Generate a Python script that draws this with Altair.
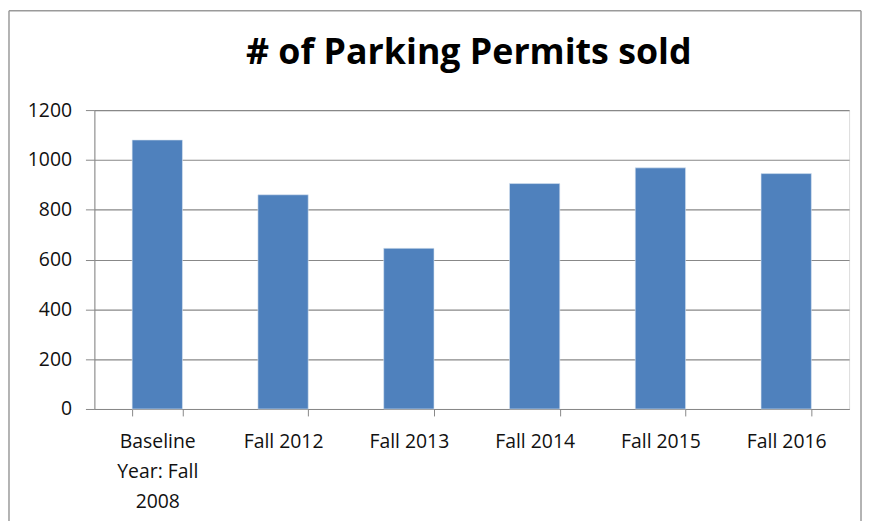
import altair as alt
import pandas as pd

categories = ["Baseline Year: Fall 2008", "Fall 2012", "Fall 2013", "Fall 2014", "Fall 2015", "Fall 2016"]
permits = [1080, 860, 645, 905, 968, 945]
y_ticks = [0, 200, 400, 600, 800, 1000, 1200]

df = pd.DataFrame({"period": categories, "permits": permits})

FONT = "Open Sans"
GRID = "#888888"

bars = alt.Chart(df).mark_bar(color="#4F81BD", stroke="#DCE6F2", strokeWidth=0.6).encode(
    x=alt.X(
        "period:N",
        sort=categories,
        title=None,
        scale=alt.Scale(paddingInner=0.6, paddingOuter=0.3),
        axis=alt.Axis(
            labelAngle=0,
            tickBand="extent",
            tickSize=7,
            tickColor=GRID,
            domainColor=GRID,
            labelFont=FONT,
            labelFontSize=19.5,
            labelColor="#111111",
            labelPadding=17,
            labelLineHeight=30,
            labelExpr="datum.value == 'Baseline Year: Fall 2008' ? ['Baseline', 'Year: Fall', '2008'] : datum.value",
            grid=False,
        ),
    ),
    y=alt.Y(
        "permits:Q",
        title=None,
        scale=alt.Scale(domain=[0, 1200], nice=False),
        axis=alt.Axis(
            values=y_ticks,
            format="d",
            tickSize=9,
            tickColor=GRID,
            domainColor=GRID,
            gridColor=GRID,
            gridWidth=1.2,
            labelFont=FONT,
            labelFontSize=19.5,
            labelColor="#111111",
            labelPadding=14,
        ),
    ),
)

one = pd.DataFrame({"k": [0]})
border_left = alt.Chart(one).mark_rule(color="#9a9a9a", strokeWidth=1.5).encode(
    x=alt.value(-86), y=alt.value(-100), y2=alt.value(420)
)
border_top = alt.Chart(one).mark_rule(color="#9a9a9a", strokeWidth=1.5).encode(
    x=alt.value(-86), x2=alt.value(772), y=alt.value(-100)
)
border_right = alt.Chart(one).mark_rule(color="#9a9a9a", strokeWidth=1.5).encode(
    x=alt.value(772), y=alt.value(-100), y2=alt.value(420)
)

chart = alt.layer(bars, border_left, border_top, border_right).properties(
    width=760,
    height=301,
    title=alt.TitleParams(
        "# of Parking Permits sold",
        font=FONT,
        fontSize=36,
        fontWeight="bold",
        color="#000000",
        anchor="middle",
        dx=-3,
        offset=-62,
    ),
    autosize=alt.AutoSizeParams(type="none"),
    padding={"left": 87, "top": 101, "right": 13, "bottom": 111},
).configure_view(stroke=None).configure(background="white")

chart.save("out.html", embed_options={"renderer": "svg", "actions": False})
